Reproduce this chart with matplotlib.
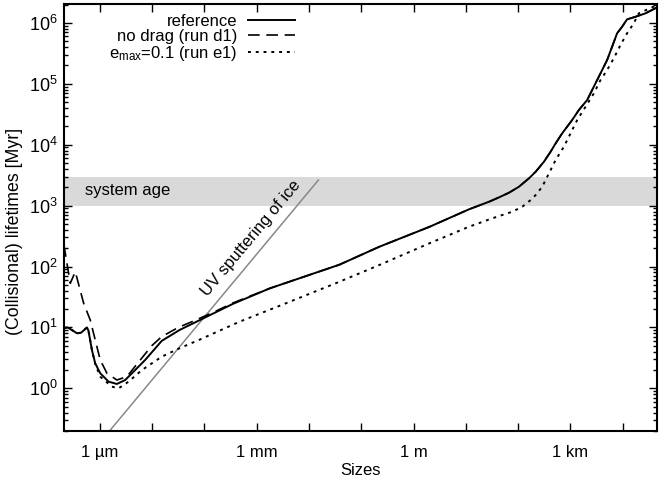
import numpy as np
import matplotlib
matplotlib.use('Agg')
import matplotlib.pyplot as plt
from matplotlib.ticker import LogLocator, NullLocator, FixedLocator, FixedFormatter

plt.rcParams['font.family'] = ['Liberation Sans', 'DejaVu Sans']
plt.rcParams['mathtext.fontset'] = 'custom'
plt.rcParams['mathtext.rm'] = 'Liberation Sans'
plt.rcParams['mathtext.it'] = 'Liberation Sans:italic'
plt.rcParams['mathtext.bf'] = 'Liberation Sans:bold'
plt.rcParams['mathtext.default'] = 'regular'

# log10 of size [m] and log10 of lifetime [Myr]
ref_logs = [-6.687, -6.62, -6.52, -6.439, -6.36, -6.248, -6.22, -6.153, -6.09, -5.994,
            -5.834, -5.676, -5.517, -5.357, -5.135, -4.817, -4.473, -4.092, -3.462,
            -2.756, -1.420, -0.656, 0.298, 1.061, 1.443, 1.634, 1.824, 2.015, 2.206,
            2.334, 2.492, 2.620, 2.716, 2.842, 3.032, 3.160, 3.319, 3.414, 3.542,
            3.701, 3.796, 3.891, 3.987, 4.082, 4.242, 4.433, 4.655]
ref_logt = [0.99, 1.0, 0.95, 0.904, 0.914, 1.0, 0.95, 0.63, 0.412, 0.248,
            0.11, 0.072, 0.137, 0.274, 0.466, 0.78, 0.96, 1.12, 1.385,
            1.64, 2.03, 2.325, 2.65, 2.94, 3.064, 3.136, 3.212, 3.310, 3.448,
            3.556, 3.72, 3.885, 4.022, 4.187, 4.405, 4.569, 4.733, 4.897, 5.116,
            5.39, 5.608, 5.828, 5.936, 6.058, 6.100, 6.156, 6.254]

nodrag_logs = [-6.687, -6.662, -6.567, -6.471, -6.311, -6.185, -6.09, -5.994, -5.866,
               -5.676, -5.485, -5.262, -5.008, -4.817, -4.5, -4.225, -3.8, -3.462,
               -2.756]
nodrag_logt = [2.35, 2.217, 1.725, 1.915, 1.397, 1.122, 0.795, 0.466, 0.248,
               0.137, 0.192, 0.43, 0.70, 0.85, 1.0, 1.10, 1.26, 1.40,
               1.64]
# past ~1 mm the no-drag run lies on top of the reference run
nodrag_logs = nodrag_logs + ref_logs[20:]
nodrag_logt = nodrag_logt + ref_logt[20:]

emax_logs = [-6.687, -6.62, -6.52, -6.439, -6.36, -6.248, -6.22, -6.153, -6.09, -5.994,
             -5.771, -5.643, -5.452, -5.198, -4.817, -4.473, -4.092, -3.328, -2.374,
             -1.420, -0.656, 0.298, 1.061, 1.506, 1.697, 1.888, 2.078, 2.239, 2.334,
             2.460, 2.588, 2.716, 2.874, 3.002, 3.128, 3.288, 3.447, 3.574, 3.701,
             3.828, 3.956, 4.082, 4.210, 4.305, 4.655]
emax_logt = [0.99, 1.0, 0.95, 0.904, 0.914, 1.0, 0.95, 0.63, 0.40, 0.192,
             0.028, 0.0, 0.11, 0.30, 0.52, 0.66, 0.80, 1.095, 1.42,
             1.75, 2.025, 2.38, 2.654, 2.792, 2.846, 2.90, 2.982, 3.092, 3.174,
             3.310, 3.530, 3.748, 3.967, 4.187, 4.405, 4.623, 4.843, 5.061, 5.226,
             5.418, 5.636, 5.828, 5.992, 6.156, 6.292]

uv_size = [10**-5.9, 10**-1.821]
uv_time = [10**-0.786, 10**3.42]

age_band = [1e3, 3e3]

xtick_pos = [1e-6, 1e-5, 1e-4, 1e-3, 1e-2, 1e-1, 1e0, 1e1, 1e2, 1e3, 1e4]
xtick_lab = ['1 µm', '', '', '1 mm', '', '', '1 m', '', '', '1 km', '']
ytick_pos = [1e0, 1e1, 1e2, 1e3, 1e4, 1e5, 1e6]
ytick_lab = ['$10^{0}$', '$10^{1}$', '$10^{2}$', '$10^{3}$', '$10^{4}$', '$10^{5}$', '$10^{6}$']

fig = plt.figure(figsize=(6.6, 4.86), dpi=100)
ax = fig.add_axes([64/660, 1-431/486, 593/660, 427/486])

ax.axhspan(age_band[0], age_band[1], color='#d9d9d9', lw=0, zorder=0)
ax.text(10**-6.29, 10**3.245, 'system age', fontsize=12, ha='left', va='center')

ax.plot(uv_size, uv_time, color='#888888', lw=1.1, zorder=1)
ax.text(10**-3.118, 10**2.468, 'UV sputtering of ice', fontsize=12, rotation=50.1,
        rotation_mode='anchor', ha='center', va='center')

ax.plot(10**np.array(ref_logs), 10**np.array(ref_logt), color='black', lw=1.4,
        label='reference', zorder=4)
ax.plot(10**np.array(nodrag_logs), 10**np.array(nodrag_logt), color='black', lw=1.2,
        dashes=(7, 4), label='no drag (run d1)', zorder=3)
ax.plot(10**np.array(emax_logs), 10**np.array(emax_logt), color='black', lw=1.4,
        dashes=(1.5, 2.5), label='e$_{max}$=0.1 (run e1)', zorder=3)

ax.set_xscale('log')
ax.set_yscale('log')
ax.set_xlim(10**-6.687, 10**4.655)
ax.set_ylim(10**-0.70, 10**6.31)

ax.xaxis.set_major_locator(FixedLocator(xtick_pos))
ax.xaxis.set_major_formatter(FixedFormatter(xtick_lab))
ax.xaxis.set_minor_locator(NullLocator())
ax.yaxis.set_major_locator(FixedLocator(ytick_pos))
ax.yaxis.set_major_formatter(FixedFormatter(ytick_lab))
ax.yaxis.set_minor_locator(LogLocator(base=10, subs=np.arange(2, 10), numticks=20))
ax.yaxis.set_minor_formatter(FixedFormatter([]))

ax.tick_params(which='both', direction='in', top=True, right=True, width=1.0)
ax.tick_params(which='major', length=6)
ax.tick_params(which='minor', length=3)
ax.tick_params(axis='x', labelsize=12, pad=10)
ax.tick_params(axis='y', labelsize=13, pad=4.5)
for s in ax.spines.values():
    s.set_linewidth(1.5)

ax.set_xlabel('Sizes', fontsize=12, labelpad=2)
ax.set_ylabel('(Collisional) lifetimes [Myr]', fontsize=12.8)
ax.yaxis.set_label_coords(-0.069, 0.468)

ax.legend(loc='upper right', bbox_to_anchor=(0.3895, 0.976), frameon=False, markerfirst=False,
          fontsize=12, handlelength=2.8, handletextpad=0.65, labelspacing=0.0, borderpad=0.0,
          borderaxespad=0.0)

fig.savefig('out.png', dpi=100)
